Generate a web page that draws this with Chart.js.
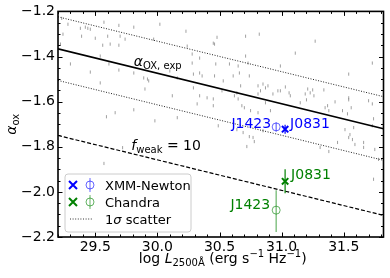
<!DOCTYPE html>
<html>
<head>
<meta charset="utf-8">
<script src="https://cdn.jsdelivr.net/npm/chart.js"></script>
<style>
  body { margin: 0; background: #fff; }
  canvas { display: block; }
</style>
</head>
<body>
<canvas id="chart" width="390" height="278"></canvas>
<script>
//______________________________________________________
// axis ranges and tick labels
var xMin = 29.2, xMax = 31.82;
var yMin = -2.2, yMax = -1.2;
var xTicks = [29.5, 30.0, 30.5, 31.0, 31.5];
var yTicks = [-2.2, -2.0, -1.8, -1.6, -1.4, -1.2];

// background quasar sample (log L2500, alpha_ox)
var quasarLogL = [
  29.28, 29.38, 29.42, 29.44, 29.46, 29.39, 29.57, 29.69, 29.81, 29.50,
  29.60, 29.70, 29.74, 29.24, 29.22, 29.56, 29.62, 29.69, 29.97, 29.30,
  29.54, 29.61, 29.69, 29.46, 29.81, 29.89, 29.92, 29.93, 29.54, 29.90,
  29.81, 29.59, 29.66, 29.98, 30.02, 30.23, 30.48, 30.71, 30.82, 30.45,
  30.46, 30.24, 30.28, 30.34, 30.71, 30.47, 30.58, 30.65, 30.66, 30.73,
  30.28, 30.10, 30.29, 30.34, 30.36, 30.16, 30.46, 30.53, 30.61, 30.74,
  30.81, 30.85, 30.87, 30.67, 30.64, 30.62, 30.65, 30.40, 30.45, 30.52,
  30.29, 30.34, 30.81, 30.83, 30.68, 30.70, 30.45, 30.32, 30.12, 30.16,
  30.75, 30.81, 30.91, 30.87, 30.93, 31.27, 31.11, 31.73, 30.99, 31.54,
  31.03, 31.06, 31.07, 31.21, 31.23, 31.25, 31.34, 31.26, 31.20, 31.15,
  31.43, 31.35, 31.38, 31.54, 31.54, 31.56, 31.49, 31.70, 31.73, 31.74,
  30.99, 30.89, 30.97, 31.19, 31.37, 31.53, 31.73, 30.85, 31.54, 31.58,
  29.72, 29.57, 30.49, 30.64, 30.69, 30.74, 30.77, 30.78, 30.72, 31.51,
  31.55, 31.57, 31.59, 31.66, 31.66, 31.75, 31.38, 31.31, 31.45, 31.74,
  31.78, 29.23
];
var quasarAox = [
  -1.257, -1.275, -1.270, -1.275, -1.279, -1.310, -1.248, -1.262, -1.270, -1.319,
  -1.310, -1.310, -1.323, -1.301, -1.345, -1.350, -1.345, -1.350, -1.323, -1.433,
  -1.398, -1.433, -1.460, -1.469, -1.473, -1.495, -1.500, -1.508, -1.517, -1.544,
  -1.636, -1.667, -1.649, -1.685, -1.257, -1.288, -1.315, -1.310, -1.301, -1.341,
  -1.345, -1.354, -1.389, -1.407, -1.398, -1.433, -1.433, -1.442, -1.473, -1.429,
  -1.429, -1.464, -1.478, -1.473, -1.486, -1.495, -1.486, -1.508, -1.486, -1.486,
  -1.530, -1.522, -1.539, -1.530, -1.561, -1.574, -1.588, -1.583, -1.588, -1.552,
  -1.539, -1.574, -1.566, -1.552, -1.618, -1.627, -1.618, -1.610, -1.574, -1.671,
  -1.640, -1.649, -1.640, -1.605, -1.566, -1.332, -1.385, -1.429, -1.442, -1.478,
  -1.535, -1.561, -1.574, -1.544, -1.561, -1.548, -1.548, -1.574, -1.592, -1.605,
  -1.601, -1.627, -1.640, -1.583, -1.592, -1.627, -1.640, -1.596, -1.610, -1.676,
  -1.552, -1.530, -1.552, -1.566, -1.618, -1.654, -1.707, -1.729, -1.759, -1.715,
  -1.804, -1.874, -1.707, -1.724, -1.737, -1.755, -1.759, -1.777, -1.799, -1.724,
  -1.746, -1.768, -1.790, -1.781, -1.803, -1.812, -1.821, -1.803, -1.781, -1.944,
  -1.856, -1.231
];

// relation lines, read at the two plot edges
var lineX   = [29.2, 31.82];
var expY    = [-1.366, -1.720];   // alpha_ox,exp
var upperY  = [-1.224, -1.578];   // +1 sigma
var lowerY  = [-1.506, -1.860];   // -1 sigma
var weakY   = [-1.750, -2.104];   // f_weak = 10

// the two sources: [J1423, J0831]
var srcNames      = ['J1423', 'J0831'];
var srcLogL       = [30.956, 31.028];
var xmmAox        = [-1.712, -1.722];
var xmmAoxHi      = [-1.692, -1.702];
var xmmAoxLo      = [-1.732, -1.742];
var chandraAox    = [-2.081, -1.953];
var chandraAoxHi  = [-1.993, -1.900];
var chandraAoxLo  = [-2.178, -2.006];

const Font = 'DejaVu Sans';
const Blue = '#0000ff';
const BlueLight = 'rgba(0,0,255,0.6)';
const Green = '#008000';
const GreenLight = 'rgba(0,128,0,0.6)';

//______________________________________________________
function pts(xs, ys) {
    return xs.map(function (x, i) { return {x: x, y: ys[i]}; });
}
//______________________________________________________
function fontOf(p) {
    return (p.italic ? 'italic ' : '') + p.size + 'px "' + Font + '"';
}
//______________________________________________________
function drawRich(ctx, parts, x, y, align) { // text with sub/superscripts
    var w = 0;
    parts.forEach(function (p) { ctx.font = fontOf(p); w += ctx.measureText(p.t).width; });
    var cx = x;
    if (align === 'center') cx = x - w / 2;
    if (align === 'right')  cx = x - w;
    ctx.textAlign = 'left';
    ctx.textBaseline = 'alphabetic';
    parts.forEach(function (p) {
        ctx.font = fontOf(p);
        ctx.fillText(p.t, cx, y + (p.dy || 0));
        cx += ctx.measureText(p.t).width;
    });
}
//______________________________________________________
function drawCross(ctx, x, y, r, color) {
    ctx.strokeStyle = color;
    ctx.lineWidth = 2;
    ctx.beginPath();
    ctx.moveTo(x - r, y - r); ctx.lineTo(x + r, y + r);
    ctx.moveTo(x - r, y + r); ctx.lineTo(x + r, y - r);
    ctx.stroke();
}
//______________________________________________________
function drawPhi(ctx, x, y, color) { // open circle with error bar, legend glyph
    ctx.strokeStyle = color;
    ctx.lineWidth = 1;
    ctx.beginPath();
    ctx.arc(x, y, 4, 0, Math.PI * 2);
    ctx.moveTo(x, y - 7); ctx.lineTo(x, y + 7);
    ctx.stroke();
}
//______________________________________________________
var errorBars = {
    id: 'errorBars',
    afterDatasetsDraw: function (chart) {
        var ctx = chart.ctx, xs = chart.scales.x, ys = chart.scales.y;
        var bars = [
            [0, xmmAoxHi, xmmAoxLo, BlueLight],
            [1, xmmAoxHi, xmmAoxLo, Blue],
            [0, chandraAoxHi, chandraAoxLo, GreenLight],
            [1, chandraAoxHi, chandraAoxLo, Green]
        ];
        ctx.save();
        bars.forEach(function (b) {
            var i = b[0];
            var px = xs.getPixelForValue(srcLogL[i]);
            ctx.strokeStyle = b[3];
            ctx.lineWidth = 1.2;
            ctx.beginPath();
            ctx.moveTo(px, ys.getPixelForValue(b[1][i]));
            ctx.lineTo(px, ys.getPixelForValue(b[2][i]));
            ctx.stroke();
        });
        ctx.restore();
    }
};
//______________________________________________________
var decorations = {
    id: 'decorations',
    afterDraw: function (chart) {
        var ctx = chart.ctx, a = chart.chartArea;
        var xs = chart.scales.x, ys = chart.scales.y;
        ctx.save();

        // frame + inward ticks on all sides
        ctx.strokeStyle = '#000';
        ctx.lineWidth = 1;
        ctx.beginPath();
        for (var i = 292; i <= 318; i++) {
            var px = Math.round(xs.getPixelForValue(i / 10)) + 0.5;
            var len = (i % 5 === 0) ? 4.5 : 2.5;
            ctx.moveTo(px, a.bottom); ctx.lineTo(px, a.bottom - len);
            ctx.moveTo(px, a.top);    ctx.lineTo(px, a.top + len);
        }
        for (var j = -44; j <= -24; j++) {
            var py = Math.round(ys.getPixelForValue(j / 20)) + 0.5;
            var len2 = (j % 4 === 0) ? 4.5 : 2.5;
            ctx.moveTo(a.left, py);  ctx.lineTo(a.left + len2, py);
            ctx.moveTo(a.right, py); ctx.lineTo(a.right - len2, py);
        }
        ctx.stroke();
        ctx.lineWidth = 1.6;
        ctx.strokeRect(a.left, a.top, a.right - a.left, a.bottom - a.top);

        // line labels
        ctx.fillStyle = '#000';
        drawRich(ctx, [{t: 'α', size: 14, italic: true},
                       {t: 'OX, exp', size: 10, dy: 3}],
                 xs.getPixelForValue(29.81), ys.getPixelForValue(-1.442), 'left');
        drawRich(ctx, [{t: 'f', size: 14, italic: true},
                       {t: 'weak', size: 10, dy: 3},
                       {t: ' = 10', size: 14}],
                 xs.getPixelForValue(29.79), ys.getPixelForValue(-1.815), 'left');

        // source labels
        var pL = xs.getPixelForValue(srcLogL[0]);
        var pR = xs.getPixelForValue(srcLogL[1]);
        ctx.fillStyle = Blue;
        drawRich(ctx, [{t: srcNames[0], size: 14}], pL - 5, ys.getPixelForValue(xmmAox[0]) + 1, 'right');
        drawRich(ctx, [{t: srcNames[1], size: 14}], pR + 5, ys.getPixelForValue(xmmAox[1]) - 1, 'left');
        ctx.fillStyle = Green;
        drawRich(ctx, [{t: srcNames[1], size: 14}], pR + 6, ys.getPixelForValue(chandraAox[1]) - 2, 'left');
        drawRich(ctx, [{t: srcNames[0], size: 14}], pL - 6, ys.getPixelForValue(chandraAox[0]) - 1, 'right');

        // legend box
        var lx = a.left + 7, ly = a.bottom - 63, lw = 126, lh = 58, r = 3;
        ctx.beginPath();
        ctx.moveTo(lx + r, ly);
        ctx.arcTo(lx + lw, ly, lx + lw, ly + lh, r);
        ctx.arcTo(lx + lw, ly + lh, lx, ly + lh, r);
        ctx.arcTo(lx, ly + lh, lx, ly, r);
        ctx.arcTo(lx, ly, lx + lw, ly, r);
        ctx.closePath();
        ctx.fillStyle = 'rgba(255,255,255,0.8)';
        ctx.fill();
        ctx.strokeStyle = '#cccccc';
        ctx.lineWidth = 1;
        ctx.stroke();

        var rows = [ly + 11, ly + 28, ly + 45];
        drawCross(ctx, lx + 8, rows[0], 4, Blue);
        drawPhi(ctx, lx + 25, rows[0], BlueLight);
        drawCross(ctx, lx + 8, rows[1], 4, Green);
        drawPhi(ctx, lx + 25, rows[1], GreenLight);
        ctx.strokeStyle = '#333';
        ctx.lineWidth = 1;
        ctx.setLineDash([1, 1.6]);
        ctx.beginPath();
        ctx.moveTo(lx + 5, rows[2]); ctx.lineTo(lx + 28, rows[2]);
        ctx.stroke();
        ctx.setLineDash([]);
        ctx.fillStyle = '#000';
        drawRich(ctx, [{t: 'XMM-Newton', size: 13}], lx + 40, rows[0] + 5, 'left');
        drawRich(ctx, [{t: 'Chandra', size: 13}], lx + 40, rows[1] + 5, 'left');
        drawRich(ctx, [{t: '1', size: 13}, {t: 'σ', size: 13, italic: true}, {t: ' scatter', size: 13}],
                 lx + 40, rows[2] + 5, 'left');

        // axis titles
        drawRich(ctx, [{t: 'log ', size: 14}, {t: 'L', size: 14, italic: true},
                       {t: '2500Å', size: 10, dy: 3}, {t: ' (erg s', size: 14},
                       {t: '−1', size: 10, dy: -6}, {t: ' Hz', size: 14},
                       {t: '−1', size: 10, dy: -6}, {t: ')', size: 14}],
                 (a.left + a.right) / 2 + 2, 263, 'center');
        ctx.translate(16, (a.top + a.bottom) / 2);
        ctx.rotate(-Math.PI / 2);
        drawRich(ctx, [{t: 'α', size: 14, italic: true}, {t: 'ox', size: 10, dy: 3}], 0, 0, 'center');
        ctx.restore();
    }
};
//______________________________________________________
function initChart() {
    var ctx = document.getElementById('chart').getContext('2d');
    new Chart(ctx, {
        type: 'scatter',
        data: {
            datasets: [
                { // XMM markers
                    data: pts([srcLogL[1]], [xmmAox[1]]), order: 0,
                    pointStyle: 'crossRot', radius: 4.5, borderWidth: 2, borderColor: Blue
                },
                {
                    data: pts([srcLogL[0]], [xmmAox[0]]), order: 0,
                    pointStyle: 'circle', radius: 4, borderWidth: 1,
                    borderColor: BlueLight, backgroundColor: 'rgba(0,0,0,0)'
                },
                { // Chandra markers
                    data: pts([srcLogL[1]], [chandraAox[1]]), order: 0,
                    pointStyle: 'crossRot', radius: 4.5, borderWidth: 2, borderColor: Green
                },
                {
                    data: pts([srcLogL[0]], [chandraAox[0]]), order: 0,
                    pointStyle: 'circle', radius: 4, borderWidth: 1,
                    borderColor: GreenLight, backgroundColor: 'rgba(0,0,0,0)'
                },
                { // relations
                    type: 'line', data: pts(lineX, expY), order: 1,
                    borderColor: '#000', borderWidth: 1.6, pointRadius: 0
                },
                {
                    type: 'line', data: pts(lineX, upperY), order: 1,
                    borderColor: '#222', borderWidth: 1, borderDash: [1, 1.6], pointRadius: 0
                },
                {
                    type: 'line', data: pts(lineX, lowerY), order: 1,
                    borderColor: '#222', borderWidth: 1, borderDash: [1, 1.6], pointRadius: 0
                },
                {
                    type: 'line', data: pts(lineX, weakY), order: 1,
                    borderColor: '#000', borderWidth: 1.2, borderDash: [4, 2], pointRadius: 0
                },
                { // background sample, small grey points with short vertical bars
                    data: pts(quasarLogL, quasarAox), order: 2,
                    pointStyle: 'line', pointRotation: 90, rotation: 90,
                    radius: 1.6, borderWidth: 1,
                    borderColor: 'rgba(120,120,120,0.7)'
                }
            ]
        },
        options: {
            responsive: false,
            animation: false,
            devicePixelRatio: 1,
            layout: { padding: { top: 10, right: 4, left: 0, bottom: 0 } },
            plugins: { legend: { display: false }, tooltip: { enabled: false } },
            scales: {
                x: {
                    type: 'linear', min: xMin, max: xMax,
                    grid: { display: false, drawTicks: false, tickLength: 0 },
                    border: { display: false },
                    afterBuildTicks: function (s) { s.ticks = xTicks.map(function (v) { return {value: v}; }); },
                    afterFit: function (s) { s.height = 41; },
                    ticks: {
                        color: '#000', padding: 2, maxRotation: 0,
                        font: { family: Font, size: 14 },
                        callback: function (v) { return v.toFixed(1); }
                    }
                },
                y: {
                    type: 'linear', min: yMin, max: yMax,
                    grid: { display: false, drawTicks: false, tickLength: 0 },
                    border: { display: false },
                    afterBuildTicks: function (s) { s.ticks = yTicks.map(function (v) { return {value: v}; }); },
                    afterFit: function (s) { s.width = 58; },
                    ticks: {
                        color: '#000', padding: 3,
                        font: { family: Font, size: 14 },
                        callback: function (v) { return v.toFixed(1).replace('-', '−'); }
                    }
                }
            }
        },
        plugins: [errorBars, decorations]
    });
}
//______________________________________________________
initChart();
</script>
</body>
</html>
